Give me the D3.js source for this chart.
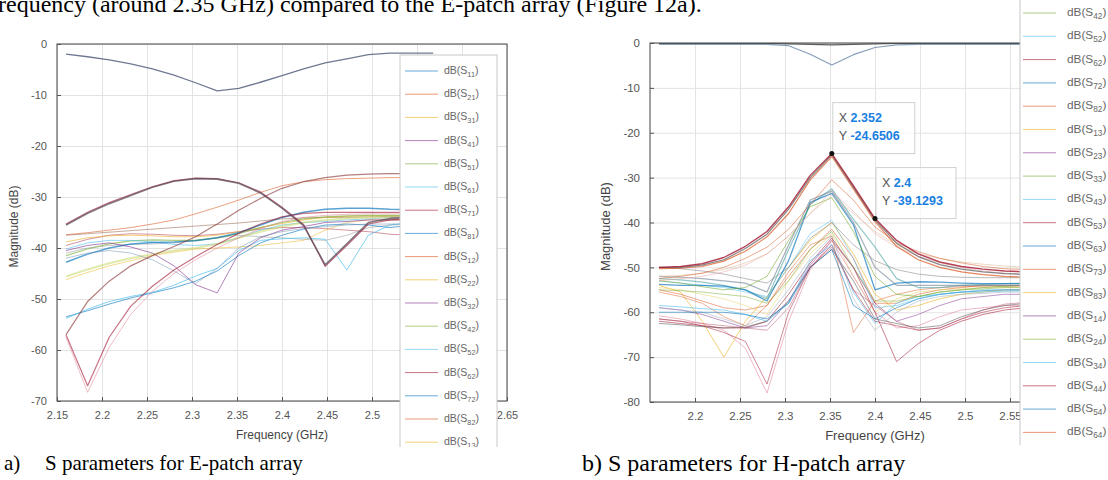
<!DOCTYPE html>
<html><head><meta charset="utf-8">
<script src="https://cdn.jsdelivr.net/npm/d3@7"></script>
<style>body{margin:0;background:#fff}svg{display:block}</style>
</head><body>
<svg id="c" width="1108" height="480"></svg>
<script>
// ---------- shared data ----------
const freqs = [2.16,2.184,2.208,2.232,2.256,2.28,2.304,2.328,2.352,2.376,2.4,2.424,2.448,2.472,2.496,2.52,2.544,2.568];
const xGridE = [2.15,2.2,2.25,2.3,2.35,2.4,2.45,2.5,2.55,2.6,2.65];
const xLabelsE = [2.15,2.2,2.25,2.3,2.35,2.4,2.45,2.5,2.65];
const xGridH = [2.2,2.25,2.3,2.35,2.4,2.45,2.5,2.55,2.6,2.65];
const xLabelsH = [2.2,2.25,2.3,2.35,2.4,2.45,2.5,2.55];
const yTicksE = [0,-10,-20,-30,-40,-50,-60,-70];
const yTicksH = [0,-10,-20,-30,-40,-50,-60,-70,-80];
const legendE = ["11","21","31","41","51","61","71","81","12","22","32","42","52","62","72","82","13"];
const legendH = ["42","52","62","72","82","13","23","33","43","53","63","73","83","14","24","34","44","54","64"];
const palette = ["#0072BD","#D95319","#EDB120","#7E2F8E","#77AC30","#4DBEEE","#A2142F"];

// ---------- E-patch series (dB) ----------
const eS11   = [-2.0,-2.5,-3.1,-3.9,-4.9,-6.1,-7.6,-9.2,-8.7,-7.5,-6.2,-4.9,-3.7,-2.9,-2.1,-1.8,-1.8,-1.8];
const eArchA = [-35.5,-33.2,-31.3,-29.7,-28.1,-26.9,-26.4,-26.5,-27.3,-29.2,-32.2,-35.6,-43.3,-39.2,-35.0,-34.2,-34.0,-34.0];
const eArchB = [-35.3,-33.0,-31.1,-29.5,-28.0,-26.8,-26.3,-26.4,-27.2,-29.0,-32.0,-35.4,-43.6,-39.5,-35.3,-34.5,-34.3,-34.3];
const eRiseA = [-37.4,-37.0,-36.5,-36.0,-35.3,-34.5,-33.3,-32.0,-30.6,-29.1,-27.8,-27.0,-26.6,-26.4,-26.3,-26.2,-26.2,-26.2];
const eRiseB = [-57.0,-50.5,-46.5,-43.5,-41.5,-39.7,-37.8,-35.3,-32.6,-30.3,-28.3,-27.0,-26.2,-25.7,-25.5,-25.4,-25.4,-25.4];
const eDipA  = [-57.0,-67.0,-57.5,-51.4,-47.5,-44.3,-41.7,-39.3,-37.1,-35.3,-33.9,-33.2,-33.0,-33.0,-33.0,-33.0,-33.0,-33.0];
const eDipB  = [-57.5,-68.3,-59.5,-53.0,-48.5,-45.0,-42.3,-40.0,-38.0,-36.2,-34.8,-34.0,-33.6,-33.4,-33.3,-33.3,-33.3,-33.3];
const eLowA  = [-53.5,-52.3,-51.0,-49.8,-48.8,-47.8,-46.5,-44.5,-41.5,-39.0,-37.5,-36.3,-35.5,-35.3,-35.5,-36.0,-35.5,-35.5];
const eLowB  = [-53.8,-52.0,-50.5,-49.5,-48.7,-47.3,-45.5,-44.0,-40.5,-38.5,-38.2,-38.0,-38.3,-44.3,-37.5,-35.5,-35.0,-35.0];
const eNotchA= [-40.5,-39.5,-39.0,-39.8,-41.0,-43.5,-47.2,-48.8,-41.0,-38.0,-36.5,-35.8,-35.0,-34.8,-34.5,-34.5,-34.5,-34.5];
const eNotchB= [-42.0,-41.0,-40.5,-41.0,-42.3,-44.5,-47.0,-44.0,-40.0,-37.8,-36.8,-36.2,-35.8,-35.5,-35.3,-35.3,-35.3,-35.3];
const eBand1 = [-38.8,-38.0,-37.6,-37.5,-37.6,-37.8,-37.8,-37.5,-36.8,-36.0,-35.2,-34.5,-34.0,-33.8,-33.7,-33.7,-33.7,-33.7];
const eBand2 = [-41.5,-40.2,-39.2,-38.6,-38.4,-38.5,-38.5,-38.0,-37.2,-36.0,-35.0,-34.3,-33.9,-33.7,-33.6,-33.6,-33.6,-33.6];
const eBand3 = [-42.8,-41.2,-40.0,-39.2,-38.9,-38.8,-38.6,-38.0,-37.0,-35.5,-34.0,-33.0,-32.4,-32.2,-32.2,-32.4,-32.5,-32.5];
const eBand4 = [-40.2,-39.0,-38.5,-38.5,-38.8,-39.3,-39.5,-39.2,-38.0,-36.5,-35.5,-35.0,-34.8,-34.5,-34.3,-34.0,-34.0,-34.0];
const eBand5 = [-45.6,-44.2,-43.0,-42.0,-41.2,-40.5,-40.0,-39.2,-38.0,-36.8,-35.8,-35.0,-34.5,-34.2,-34.0,-34.0,-34.0,-34.0];
const eBand6 = [-46.2,-44.8,-43.5,-42.5,-41.5,-40.8,-40.2,-40.0,-39.8,-39.5,-39.0,-38.5,-36.5,-35.0,-34.5,-34.5,-34.5,-34.5];
const eBand7 = [-39.5,-38.3,-37.5,-37.2,-37.3,-37.5,-37.6,-37.3,-36.8,-36.3,-36.0,-36.0,-36.2,-36.5,-36.8,-37.3,-37.5,-37.5];
const eBand8 = [-37.5,-37.2,-36.9,-36.6,-36.3,-36.0,-35.7,-35.4,-35.1,-34.7,-34.3,-34.1,-34.0,-34.0,-33.9,-33.8,-33.8,-33.8];
const eBand9 = [-41.0,-40.0,-39.5,-39.3,-39.2,-39.0,-38.5,-38.0,-37.5,-37.8,-38.0,-38.3,-38.5,-37.5,-36.0,-35.5,-35.3,-35.3];

// ---------- H-patch series (dB) ----------
const hS11  = [-0.3,-0.3,-0.3,-0.3,-0.3,-0.3,-0.6,-2.5,-4.9,-2.6,-1.0,-0.4,-0.3,-0.3,-0.3,-0.3,-0.3,-0.3];
const hTop2 = [-0.1,-0.1,-0.1,-0.1,-0.1,-0.1,-0.2,-0.3,-0.4,-0.3,-0.2,-0.1,-0.1,-0.1,-0.1,-0.1,-0.1,-0.1];
const hPkA  = [-50.0,-49.8,-49.2,-47.8,-45.3,-42.0,-36.5,-29.5,-24.65,-31.8,-39.13,-44.0,-47.0,-48.8,-49.8,-50.4,-50.8,-51.0];
const hPkB  = [-50.3,-50.2,-49.8,-48.6,-46.4,-43.2,-38.0,-30.5,-25.3,-32.5,-39.8,-45.3,-48.3,-50.0,-51.0,-51.6,-52.0,-52.2];
const hPkC  = [-50.0,-50.0,-49.5,-48.3,-45.8,-42.6,-37.0,-30.0,-24.9,-32.1,-39.4,-44.6,-47.6,-49.4,-50.4,-51.0,-51.4,-51.6];
const hSkA  = [-52.5,-52.0,-51.3,-50.0,-48.0,-45.5,-41.5,-36.0,-30.5,-35.0,-41.0,-44.5,-46.5,-48.0,-49.0,-49.8,-50.3,-50.5];
const hSkB  = [-53.0,-52.5,-52.0,-51.0,-49.5,-47.0,-43.0,-38.0,-33.0,-37.5,-42.5,-45.5,-47.5,-49.0,-50.0,-50.8,-51.3,-51.5];
const hSkC  = [-52.0,-51.8,-51.3,-50.5,-49.0,-47.0,-43.0,-38.0,-34.0,-38.0,-42.0,-45.0,-47.0,-48.0,-48.8,-49.3,-49.7,-50.0];
const hMidA = [-52.5,-52.8,-53.3,-54.0,-55.0,-57.0,-46.0,-36.0,-32.5,-39.3,-45.5,-52.5,-54.5,-54.5,-54.0,-53.8,-53.6,-53.5];
const hMidB = [-53.8,-54.0,-54.0,-54.2,-55.0,-57.5,-48.5,-35.5,-33.5,-40.5,-55.0,-53.5,-53.2,-53.3,-53.5,-53.6,-53.6,-53.6];
const hMidC = [-53.0,-53.5,-54.3,-55.0,-54.5,-52.0,-44.0,-36.5,-34.5,-42.0,-52.0,-56.0,-56.5,-55.5,-55.0,-54.5,-54.2,-54.0];
const hMidD = [-52.0,-52.2,-52.5,-53.0,-53.5,-55.5,-45.0,-35.0,-33.0,-40.0,-50.0,-54.0,-54.0,-54.0,-54.0,-54.0,-54.0,-54.0];
const hMidE = [-50.0,-50.3,-50.8,-51.5,-52.5,-53.5,-50.0,-43.5,-40.0,-45.0,-48.5,-50.5,-51.5,-52.0,-52.2,-52.3,-52.3,-52.3];
const hLoA  = [-54.0,-55.5,-62.0,-70.0,-62.0,-56.5,-50.0,-44.0,-40.0,-47.0,-56.0,-59.5,-58.5,-57.0,-56.0,-55.5,-55.0,-55.0];
const hLoB  = [-55.0,-56.0,-57.5,-59.0,-59.5,-58.5,-52.0,-46.0,-41.5,-48.0,-58.0,-58.0,-56.0,-55.0,-54.5,-54.0,-54.0,-54.0];
const hLoC  = [-54.5,-55.0,-56.0,-57.0,-58.5,-60.5,-53.0,-47.0,-42.5,-52.0,-60.0,-57.0,-55.5,-55.0,-54.8,-54.5,-54.5,-54.5];
const hLoD  = [-55.5,-56.5,-58.0,-61.0,-63.0,-58.5,-51.0,-45.0,-43.0,-64.5,-57.5,-56.0,-55.0,-54.5,-54.3,-54.2,-54.2,-54.2];
const hLoE  = [-59.0,-59.5,-60.5,-62.0,-63.5,-63.0,-57.5,-49.5,-44.0,-50.0,-58.0,-62.0,-60.5,-58.5,-57.0,-56.5,-56.0,-56.0];
const hLoF  = [-60.8,-61.5,-62.5,-64.0,-68.0,-78.0,-62.0,-50.5,-44.0,-52.0,-60.0,-63.5,-63.0,-61.0,-59.5,-59.0,-58.5,-58.5];
const hLoG  = [-61.5,-62.0,-63.0,-64.5,-66.5,-76.0,-60.0,-50.0,-45.0,-55.0,-62.0,-63.0,-64.0,-63.5,-61.5,-60.0,-59.0,-58.5];
const hLoH  = [-62.0,-62.5,-63.0,-63.5,-63.5,-62.0,-56.0,-49.0,-43.5,-50.0,-60.0,-71.0,-67.0,-64.0,-62.0,-60.5,-59.5,-59.0];
const hLoI  = [-62.5,-62.8,-63.2,-63.5,-63.3,-62.0,-57.5,-50.0,-46.0,-53.0,-61.5,-62.5,-63.5,-63.0,-61.0,-59.5,-58.5,-58.0];
const hLoJ  = [-58.5,-58.8,-59.2,-59.5,-60.5,-62.0,-58.0,-48.5,-45.0,-55.5,-62.5,-58.0,-56.5,-56.0,-55.5,-55.5,-55.3,-55.2];
const hLoK  = [-59.0,-59.5,-60.0,-61.5,-63.0,-61.0,-55.0,-48.0,-43.0,-57.0,-64.0,-60.0,-57.5,-56.5,-56.0,-55.8,-55.5,-55.5];
const hLoL  = [-60.0,-60.0,-60.0,-60.0,-60.5,-61.5,-58.0,-50.0,-46.0,-58.5,-61.5,-59.0,-57.0,-56.0,-55.5,-55.2,-55.0,-55.0];
const hLoM  = [-61.5,-62.0,-62.5,-63.0,-63.5,-64.0,-59.0,-50.0,-45.5,-55.0,-58.5,-62.0,-64.0,-63.5,-61.5,-59.5,-58.2,-57.8];
const hLoN  = [-53.0,-53.5,-54.0,-54.5,-55.5,-56.5,-50.0,-42.5,-39.5,-48.0,-59.0,-58.5,-57.0,-56.0,-55.5,-55.0,-55.0,-55.0];
const hLoO  = [-55.0,-55.2,-55.5,-56.0,-56.5,-58.0,-53.0,-46.0,-42.0,-50.0,-57.5,-57.5,-56.5,-55.5,-55.0,-54.8,-54.5,-54.5];

// data tips on the H-patch plot
const tipX = [2.352, 2.4];
const tipY = [-24.6506, -39.1293];

// ---------- build tables ----------
const C = palette;
const eLines = [
  [eBand7,C[6],1,.45],[eBand8,"#8c5a3c",1,.5],[eBand9,"#888",1,.45],
  [eBand1,C[2],1,.6],[eBand2,C[4],1.2,.6],[eBand4,C[5],1,.6],[eBand5,"#c8d86a",2,.55],[eBand6,C[2],1,.5],
  [eBand3,C[0],1.5,.65],
  [eLowA,C[0],1,.6],[eLowB,C[5],1,.7],[eNotchA,C[3],1,.6],[eNotchB,"#6f8fb0",1,.5],
  [eRiseA,C[1],1,.55],[eRiseB,"#8b3a3a",1.2,.65],[eDipA,C[6],1.2,.6],[eDipB,"#e07a8a",1,.5],
  [eArchB,C[6],1.2,.6],[eArchA,"#5a4a5a",1.6,.75],
  [eS11,"#4a5875",1.3,.8]
];
const hLines = [
  [hLoA,C[2],1,.6],[hLoB,C[1],1,.5],[hLoC,"#e8d060",1,.5],[hLoD,C[1],1,.45],[hLoE,C[3],1,.5],
  [hLoF,"#e58aa0",1,.6],[hLoG,C[6],1,.5],[hLoH,C[6],1,.55],[hLoI,"#555",1,.55],[hLoJ,C[5],1,.6],
  [hLoK,"#9ab",1,.5],[hLoL,C[0],1,.55],[hLoM,"#b04060",1,.45],[hLoN,C[5],1,.5],[hLoO,C[4],1,.5],
  [hMidE,"#777",1,.5],[hMidA,"#5aa9a9",1.2,.65],[hMidB,C[0],1.3,.65],[hMidC,C[4],1,.6],[hMidD,"#6a7f90",1.2,.6],
  [hSkC,"#d9b38c",1,.5],[hSkB,"#e8a0a0",1,.5],[hSkA,C[1],1,.5],
  [hPkB,C[1],1.2,.7],[hPkC,"#555",1.2,.7],[hPkA,C[6],1.4,.8],
  [hTop2,"#333",1.2,.8],[hS11,"#6a86a8",1.2,.8]
];

const svg = d3.select("#c");
const FONT = "'Liberation Sans', Arial, sans-serif";

function panel(id, xs, ys, xGrid, xLabels, yTicks, lines, ylabX, tickFs, titleFs) {
  const [x0,x1] = xs.range(), [y0,y1] = ys.range(); // y0 bottom
  const g = svg.append("g");
  g.append("clipPath").attr("id","clip"+id).append("rect")
    .attr("x",x0).attr("y",y1).attr("width",x1-x0).attr("height",y0-y1);
  // grid
  g.append("g").attr("transform",`translate(0,${y0})`)
    .call(d3.axisBottom(xs).tickValues(xGrid).tickSize(-(y0-y1)).tickFormat(""))
    .call(a=>{a.select(".domain").remove(); a.selectAll("line").attr("stroke","#e3e3e3");});
  g.append("g").attr("transform",`translate(${x0},0)`)
    .call(d3.axisLeft(ys).tickValues(yTicks).tickSize(-(x1-x0)).tickFormat(""))
    .call(a=>{a.select(".domain").remove(); a.selectAll("line").attr("stroke","#e3e3e3");});
  // lines
  const lg = g.append("g").attr("clip-path",`url(#clip${id})`);
  const line = d3.line().x((d,i)=>xs(freqs[i])).y(d=>ys(d));
  lines.forEach(([vals,col,w,op])=>{
    lg.append("path").attr("d",line(vals)).attr("fill","none")
      .attr("stroke",col).attr("stroke-width",w).attr("stroke-opacity",op)
      .attr("stroke-linejoin","round");
  });
  // frame
  g.append("rect").attr("x",x0).attr("y",y1).attr("width",x1-x0).attr("height",y0-y1)
    .attr("fill","none").attr("stroke","#444").attr("stroke-width",1);
  // tick labels
  const xl = g.append("g").attr("transform",`translate(0,${y0})`)
    .call(d3.axisBottom(xs).tickValues(xLabels).tickSize(4).tickSizeOuter(0).tickPadding(6).tickFormat(d=>String(d)));
  xl.select(".domain").remove();
  xl.selectAll("line").attr("stroke","#555").attr("y2",-4);
  xl.selectAll("text").attr("fill","#555").style("font-family",FONT).style("font-size",tickFs+"px");
  const yl = g.append("g").attr("transform",`translate(${x0},0)`)
    .call(d3.axisLeft(ys).tickValues(yTicks).tickSize(4).tickPadding(6).tickFormat(d=>String(d)));
  yl.select(".domain").remove();
  yl.selectAll("line").attr("stroke","#555").attr("x2",4);
  yl.selectAll("text").attr("fill","#555").style("font-family",FONT).style("font-size",tickFs+"px");
  // axis titles
  g.append("text").attr("x",(x0+x1)/2).attr("y",y0+38).attr("text-anchor","middle")
    .attr("fill","#444").style("font-family",FONT).style("font-size",titleFs+"px").text("Frequency (GHz)");
  g.append("text").attr("transform",`translate(${ylabX},${(y0+y1)/2+4}) rotate(-90)`).attr("text-anchor","middle")
    .attr("fill","#444").style("font-family",FONT).style("font-size",titleFs+"px").text("Magnitude (dB)");
  return g;
}

function legend(id, x0, x1, yTop, yBot, items, yFirst, step, sx0, sx1, tx, fs) {
  const g = svg.append("g");
  g.append("clipPath").attr("id","lc"+id).append("rect").attr("x",x0-1).attr("y",yTop-1).attr("width",x1-x0+2).attr("height",yBot-yTop+1);
  const c = g.append("g").attr("clip-path",`url(#lc${id})`);
  c.append("rect").attr("x",x0).attr("y",yTop).attr("width",x1-x0).attr("height",yBot-yTop+20)
    .attr("fill","#fff").attr("stroke","#c8c8c8");
  items.forEach((s,i)=>{
    const y = yFirst + i*step;
    const idx = (+s[1]-1)*8 + (+s[0]-1);
    c.append("line").attr("x1",sx0).attr("x2",sx1).attr("y1",y).attr("y2",y)
      .attr("stroke",palette[idx%7]).attr("stroke-opacity",.6).attr("stroke-width",1);
    const t = c.append("text").attr("x",tx).attr("y",y+3).attr("fill","#666")
      .style("font-family",FONT).style("font-size",fs+"px");
    t.append("tspan").text("dB(S");
    t.append("tspan").attr("dy",3).style("font-size",(fs*0.7)+"px").text(s);
    t.append("tspan").attr("dy",-3).text(")");
  });
}

// ---------- E-patch ----------
const xE = d3.scaleLinear([2.15,2.65],[57,507]);
const yE = d3.scaleLinear([-70,0],[401,44]);
panel("E", xE, yE, xGridE, xLabelsE, yTicksE, eLines, 18, 11, 12);
legend("E", 400, 497, 55, 447, legendE, 71, 23.2, 405, 438, 444, 10.5);

// ---------- H-patch ----------
const xH = d3.scaleLinear([2.15,2.65],[650,1100]);
const yH = d3.scaleLinear([-80,0],[402,43]);
panel("H", xH, yH, xGridH, xLabelsH, yTicksH, hLines, 610, 11.5, 13);

// data tips
const tipG = svg.append("g");
const tipBox = [[0,-51,82,51],[0,-51,80,51]];
tipX.forEach((fx,i)=>{
  const px = xH(fx), py = yH(tipY[i]);
  const [bx,by,bw,bh] = tipBox[i];
  tipG.append("rect").attr("x",px+bx+1).attr("y",py+by).attr("width",bw).attr("height",bh)
    .attr("fill","#fff").attr("fill-opacity",.75).attr("stroke","#d0d0d0");
  const t1 = tipG.append("text").attr("x",px+7).attr("y",py-32).style("font-family",FONT).style("font-size","12.5px");
  t1.append("tspan").attr("fill","#555").text("X ");
  t1.append("tspan").attr("fill","#1a7fe0").attr("font-weight","600").text(String(fx));
  const t2 = tipG.append("text").attr("x",px+7).attr("y",py-14).style("font-family",FONT).style("font-size","12.5px");
  t2.append("tspan").attr("fill","#555").text("Y ");
  t2.append("tspan").attr("fill","#1a7fe0").attr("font-weight","600").text(String(tipY[i]));
  tipG.append("circle").attr("cx",px).attr("cy",py).attr("r",2.5).attr("fill","#111");
});

legend("H", 1020, 1130, -20, 445, legendH, 13, 23.3, 1023, 1056, 1067, 11.8);

// ---------- page text ----------
const SERIF = "'Liberation Serif', 'Times New Roman', serif";
svg.append("text").attr("x",-10).attr("y",12).attr("fill","#000")
  .style("font-family",SERIF).style("font-size","24px")
  .text("frequency (around 2.35 GHz) compared to the E-patch array (Figure 12a).");
svg.append("text").attr("x",4).attr("y",470).style("font-family",SERIF).style("font-size","21px").text("a)");
svg.append("text").attr("x",45).attr("y",470).style("font-family",SERIF).style("font-size","21px")
  .text("S parameters for E-patch array");
svg.append("text").attr("x",582).attr("y",471).style("font-family",SERIF).style("font-size","24px")
  .text("b) S parameters for H-patch array");
</script>
</body></html>
